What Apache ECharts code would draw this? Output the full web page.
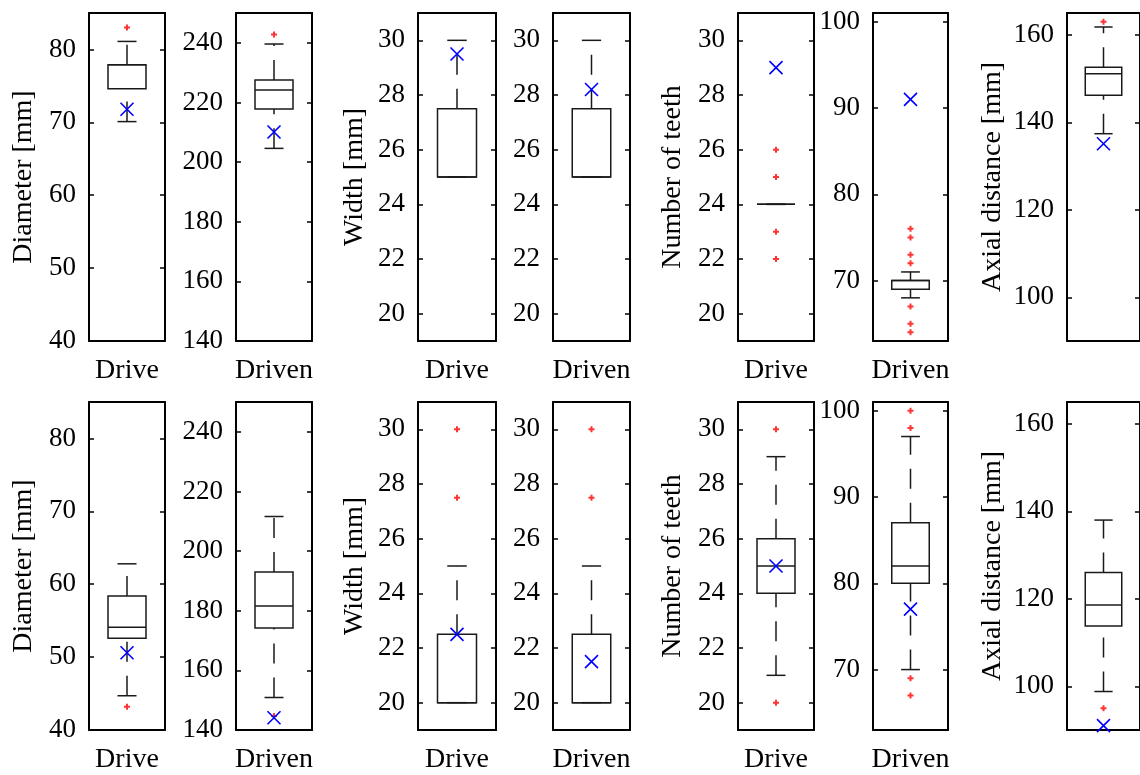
<!DOCTYPE html>
<html>
<head>
<meta charset="utf-8">
<script src="https://cdn.jsdelivr.net/npm/echarts@6/dist/echarts.min.js"></script>
<style>html,body{margin:0;background:#fff}#main{width:1140px;height:775px}</style>
</head>
<body>
<div id="main"></div>
<script>
var panelCats = ['Drive', 'Driven', 'Drive', 'Driven', 'Drive', 'Driven', ''];
var panelNames = ['Diameter [mm]', '', 'Width [mm]', '', 'Number of teeth', '', 'Axial distance [mm]'];
var yRanges = [[40, 85], [140, 250], [19, 31], [19, 31], [19, 31], [63, 101], [90, 165]];
var yTicks = [
    [40, 50, 60, 70, 80],
    [140, 160, 180, 200, 220, 240],
    [20, 22, 24, 26, 28, 30],
    [20, 22, 24, 26, 28, 30],
    [20, 22, 24, 26, 28, 30],
    [70, 80, 90, 100],
    [100, 120, 140, 160]
];

// [lower whisker, q1, median, q3, upper whisker]
var topBoxes = [
    [70.1, 74.6, 77.9, 77.9, 81.1],
    [204.6, 217.8, 224.2, 227.5, 239.6],
    [25, 25, 25, 27.5, 30],
    [25, 25, 25, 27.5, 30],
    [24, 24, 24, 24, 24],
    [68, 69, 70, 70, 71],
    [137.4, 146.2, 151.1, 152.6, 161.8]
];
var topOutliers = [[83], [242.8], [], [], [26, 25, 23, 22], [76, 75, 73, 72, 67, 65, 64], [163]];
var topMeans = [71.8, 210.1, 29.5, 28.2, 29, 91, 135.1];

var bottomBoxes = [
    [44.7, 52.6, 54.1, 58.4, 62.8],
    [150.9, 174.2, 181.6, 193, 211.6],
    [20, 20, 20, 22.5, 25],
    [20, 20, 20, 22.5, 25],
    [21, 24, 25, 26, 29],
    [70, 80, 82, 87, 97],
    [98.8, 113.8, 118.6, 126, 138]
];
var bottomOutliers = [[43.2], [144.7], [30, 27.5], [30, 27.5], [30, 20], [100, 98, 69, 67], [95]];
var bottomMeans = [50.6, 144.1, 22.5, 21.5, 25, 77, 91];

// layout
var gridLefts = [89, 236, 418, 553, 738, 873, 1067];
var gridWidths = [76, 76, 78, 77, 76, 75, 76];
var rowTops = [13, 402];
var rowHeight = 328;
var nameGaps = [51, 0, 49, 0, 51, 0, 60];

var font = 'Liberation Serif';
var plusPath = 'path://M1,0h1v1h1v1h-1v1h-1v-1h-1v-1h1z';
var crossPath = 'path://M0,0L10,10M10,0L0,10';

function renderBox(params, api) {
    var c = api.value(0);
    var x = api.coord([c, api.value(1)])[0];
    var yLow = api.coord([c, api.value(1)])[1];
    var yQ1 = api.coord([c, api.value(2)])[1];
    var yMed = api.coord([c, api.value(3)])[1];
    var yQ3 = api.coord([c, api.value(4)])[1];
    var yHigh = api.coord([c, api.value(5)])[1];
    var half = api.size([1, 0])[0] * 0.25;
    var cap = half / 2;
    var solid = {stroke: '#1a1a1a', lineWidth: 1.5, fill: null};
    var dashed = {stroke: '#1a1a1a', lineWidth: 1.5, fill: null, lineDash: [20, 14]};
    return {
        type: 'group',
        children: [
            {type: 'line', shape: {x1: x, y1: yQ3, x2: x, y2: yHigh}, style: dashed},
            {type: 'line', shape: {x1: x, y1: yLow, x2: x, y2: yQ1}, style: dashed},
            {type: 'line', shape: {x1: x - cap, y1: yHigh, x2: x + cap, y2: yHigh}, style: solid},
            {type: 'line', shape: {x1: x - cap, y1: yLow, x2: x + cap, y2: yLow}, style: solid},
            {type: 'rect', shape: {x: x - half, y: yQ3, width: half * 2, height: yQ1 - yQ3}, style: solid},
            {type: 'line', shape: {x1: x - half, y1: yMed, x2: x + half, y2: yMed}, style: solid}
        ]
    };
}

var grids = [], xAxes = [], yAxes = [], series = [];
var rows = [[topBoxes, topOutliers, topMeans], [bottomBoxes, bottomOutliers, bottomMeans]];

rows.forEach(function (row, r) {
    for (var i = 0; i < 7; i++) {
        var g = grids.length;
        grids.push({left: gridLefts[i], top: rowTops[r], width: gridWidths[i], height: rowHeight});
        var lineSt = {color: '#000', width: 2};
        var tickSt = {color: '#000', width: 1.5};
        ['bottom', 'top'].forEach(function (pos) {
            xAxes.push({
                gridIndex: g, type: 'category', data: [panelCats[i]], position: pos,
                axisLine: {onZero: false, lineStyle: lineSt},
                axisTick: {inside: true, alignWithLabel: true, length: 5, lineStyle: tickSt},
                axisLabel: {show: pos === 'bottom' && panelCats[i] !== '', fontSize: 28, fontFamily: font, color: '#000', margin: 16},
                splitLine: {show: false}
            });
        });
        ['left', 'right'].forEach(function (pos) {
            var ticks = yTicks[i];
            yAxes.push({
                gridIndex: g, type: 'value', position: pos,
                min: yRanges[i][0], max: yRanges[i][1],
                axisLine: {show: true, onZero: false, lineStyle: lineSt},
                axisTick: {show: true, inside: true, length: 5, lineStyle: tickSt, customValues: ticks},
                axisLabel: {show: pos === 'left', customValues: ticks, fontSize: 27, fontFamily: font, color: '#000', margin: 13},
                splitLine: {show: false},
                name: pos === 'left' ? panelNames[i] : '',
                nameLocation: 'middle', nameGap: nameGaps[i],
                nameTextStyle: {fontSize: 28, fontFamily: font, color: '#000'}
            });
        });
        var xi = g * 2, yi = g * 2;
        var b = row[0][i];
        series.push({
            type: 'custom', xAxisIndex: xi, yAxisIndex: yi,
            renderItem: renderBox,
            encode: {x: 0, y: [1, 2, 3, 4, 5]},
            data: [[0, b[0], b[1], b[2], b[3], b[4]]],
            z: 2
        });
        series.push({
            type: 'scatter', xAxisIndex: xi, yAxisIndex: yi,
            symbol: plusPath, symbolSize: 6,
            itemStyle: {color: '#ff0000'},
            data: row[1][i].map(function (v) { return [0, v]; }),
            z: 3
        });
        series.push({
            type: 'scatter', xAxisIndex: xi, yAxisIndex: yi,
            symbol: crossPath, symbolSize: 13,
            itemStyle: {color: 'none', borderColor: '#0000ff', borderWidth: 1.6, opacity: 1},
            data: [[0, row[2][i]]],
            z: 4
        });
    }
});

var chart = echarts.init(document.getElementById('main'));
chart.setOption({
    animation: false,
    textStyle: {fontFamily: font},
    grid: grids,
    xAxis: xAxes,
    yAxis: yAxes,
    series: series
});
</script>
</body>
</html>
